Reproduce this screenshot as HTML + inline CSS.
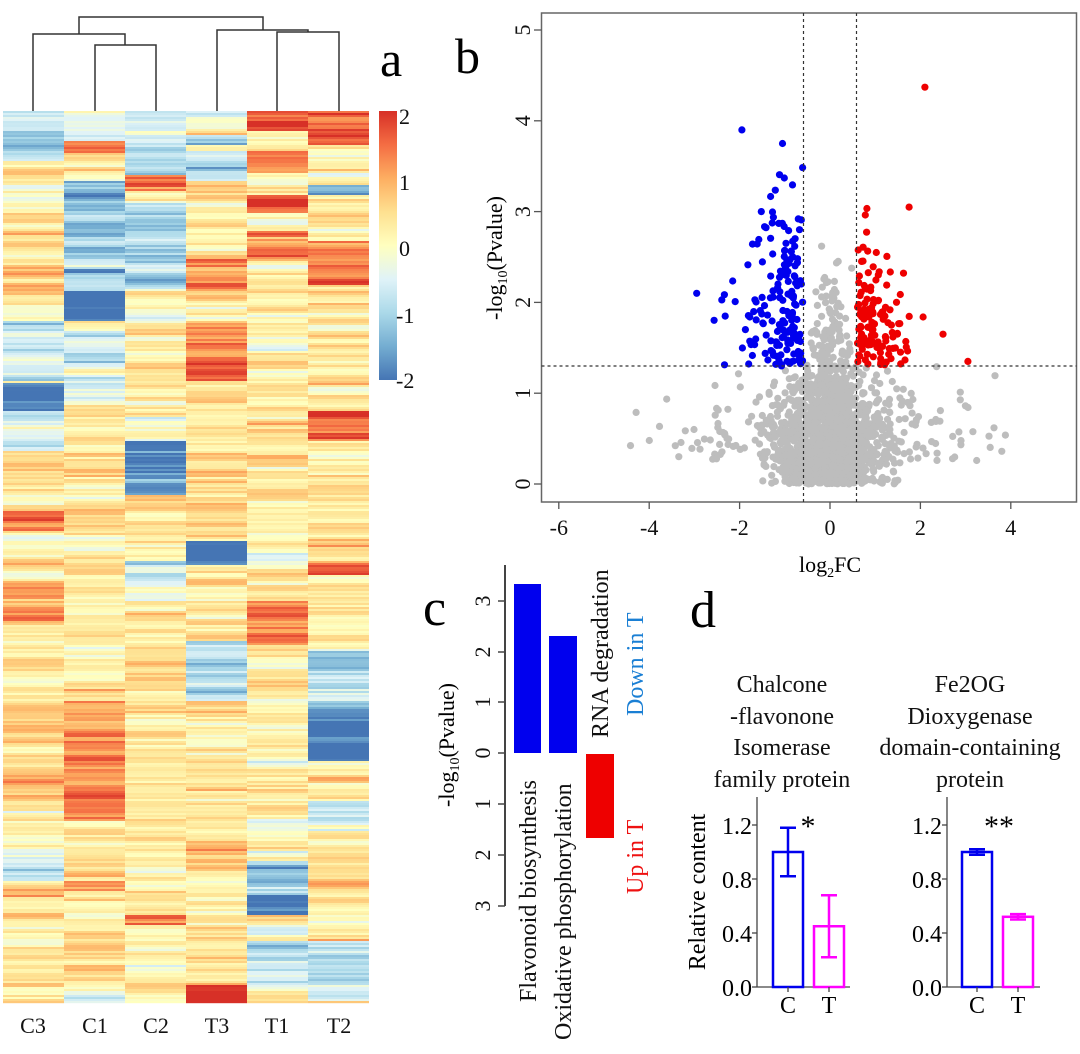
<!DOCTYPE html>
<html><head><meta charset="utf-8"><style>
html,body{margin:0;padding:0;background:#fff;}
svg{display:block;font-family:"Liberation Serif",serif;}
</style></head><body>
<svg id="s" width="1080" height="1054" viewBox="0 0 1080 1054" xmlns="http://www.w3.org/2000/svg">
<g id="hm"></g>
<g stroke="#333" stroke-width="1.5" fill="none">
<path d="M33,111 V34 H125 V45"/>
<path d="M95,111 V45 H156 V111"/>
<path d="M79,34 V17 H263 V30"/>
<path d="M217,111 V30 H308 V32"/>
<path d="M277,111 V32 H339 V111"/>
</g>
<defs><linearGradient id="cb" x1="0" y1="1" x2="0" y2="0">
<stop offset="0" stop-color="#4575b4"/><stop offset="0.125" stop-color="#74add1"/><stop offset="0.25" stop-color="#abd9e9"/><stop offset="0.375" stop-color="#e0f3f8"/><stop offset="0.5" stop-color="#ffffbf"/><stop offset="0.625" stop-color="#fee090"/><stop offset="0.75" stop-color="#fdae61"/><stop offset="0.875" stop-color="#f46d43"/><stop offset="1" stop-color="#d73027"/>
</linearGradient></defs>
<rect x="379" y="111" width="18" height="269" fill="url(#cb)"/>
<g font-size="22" fill="#111">
<text x="399" y="124">2</text><text x="399" y="190">1</text><text x="399" y="256">0</text><text x="396" y="323">-1</text><text x="396" y="388">-2</text>
</g>
<text x="380" y="76" font-size="50">a</text>
<g font-size="22" text-anchor="middle" fill="#111">
<text x="33" y="1033">C3</text><text x="95" y="1033">C1</text><text x="156" y="1033">C2</text><text x="217" y="1033">T3</text><text x="277" y="1033">T1</text><text x="339" y="1033">T2</text>
</g>

<text x="455" y="73" font-size="50">b</text>
<g id="pts"></g>
<rect x="541.5" y="13" width="535" height="489" fill="none" stroke="#666" stroke-width="1.5"/>
<g stroke="#333" stroke-width="1.2" stroke-dasharray="3,3">
<line x1="803.5" y1="13" x2="803.5" y2="502"/><line x1="856.5" y1="13" x2="856.5" y2="502"/>
<line x1="541.5" y1="366" x2="1076.5" y2="366"/>
</g>
<g stroke="#555" stroke-width="1.3" id="vt"></g>
<g font-size="22" fill="#111" id="vl"></g>
<text transform="translate(502,258) rotate(-90)" font-size="22" text-anchor="middle">-log<tspan font-size="14" dy="5">10</tspan><tspan dy="-5">(Pvalue)</tspan></text>
<text x="830" y="572" font-size="22" text-anchor="middle">log<tspan font-size="14" dy="5">2</tspan><tspan dy="-5">FC</tspan></text>

<text x="423" y="625" font-size="52">c</text>
<line x1="505" y1="565" x2="505" y2="906" stroke="#444" stroke-width="2"/>
<g stroke="#444" stroke-width="1.5">
<line x1="498" y1="601" x2="505" y2="601"/><line x1="498" y1="652" x2="505" y2="652"/><line x1="498" y1="702" x2="505" y2="702"/><line x1="498" y1="753" x2="505" y2="753"/><line x1="498" y1="804" x2="505" y2="804"/><line x1="498" y1="855" x2="505" y2="855"/><line x1="498" y1="906" x2="505" y2="906"/>
</g>
<g font-size="22" fill="#111" text-anchor="middle">
<text transform="translate(490,601) rotate(-90)">3</text><text transform="translate(490,652) rotate(-90)">2</text><text transform="translate(490,702) rotate(-90)">1</text><text transform="translate(490,753) rotate(-90)">0</text><text transform="translate(490,804) rotate(-90)">1</text><text transform="translate(490,855) rotate(-90)">2</text><text transform="translate(490,906) rotate(-90)">3</text>
</g>
<text transform="translate(454,745) rotate(-90)" font-size="22" text-anchor="middle">-log<tspan font-size="14" dy="5">10</tspan><tspan dy="-5">(Pvalue)</tspan></text>
<rect x="514" y="584" width="27" height="169" fill="#0000ee"/>
<rect x="549" y="636" width="28" height="117" fill="#0000ee"/>
<rect x="586" y="754" width="28" height="84" fill="#ee0000"/>
<g font-size="24" fill="#111">
<text transform="translate(536,1002) rotate(-90)">Flavonoid biosynthesis</text>
<text transform="translate(571,1040) rotate(-90)">Oxidative phosphorylation</text>
<text transform="translate(608,738) rotate(-90)">RNA degradation</text>
</g>
<text transform="translate(643,716) rotate(-90)" font-size="24" fill="#1a7fd4">Down in T</text>
<text transform="translate(643,894) rotate(-90)" font-size="24" fill="#ee1111">Up in T</text>

<text x="690" y="627" font-size="52">d</text>
<g font-size="24" text-anchor="middle" fill="#111">
<text x="782" y="692">Chalcone</text><text x="782" y="724">-flavonone</text><text x="782" y="755">Isomerase</text><text x="782" y="787">family protein</text>
<text x="970" y="692">Fe2OG</text><text x="970" y="724">Dioxygenase</text><text x="970" y="755">domain-containing</text><text x="970" y="787">protein</text>
</g>
<text transform="translate(705,892) rotate(-90)" font-size="24" text-anchor="middle">Relative content</text>
<g id="bars"></g>
</svg>
<script>
(function(){
var NS="http://www.w3.org/2000/svg";
function el(p,t,a){var e=document.createElementNS(NS,t);for(var k in a)e.setAttribute(k,a[k]);p.appendChild(e);return e;}
var seed=12345;function rnd(){seed=(seed*1103515245+12345)&0x7fffffff;return seed/0x7fffffff;}
function nrm(){var u=rnd()||1e-9,v=rnd();return Math.sqrt(-2*Math.log(u))*Math.cos(2*Math.PI*v);}
var stops=[[-2,[69,117,180]],[-1.5,[116,173,209]],[-1,[171,217,233]],[-0.5,[224,243,248]],[0,[255,255,191]],[0.5,[254,224,144]],[1,[253,174,97]],[1.5,[244,109,67]],[2,[215,48,39]]];
function col(v){v=Math.max(-2,Math.min(2,v));for(var i=0;i<stops.length-1;i++){if(v<=stops[i+1][0]){var t=(v-stops[i][0])/0.5,a=stops[i][1],b=stops[i+1][1];return "rgb("+Math.round(a[0]+(b[0]-a[0])*t)+","+Math.round(a[1]+(b[1]-a[1])*t)+","+Math.round(a[2]+(b[2]-a[2])*t)+")";}}return "rgb(215,48,39)";}
var blocks=[[0,111,140,-0.8],[0,140,160,-1],[0,230,300,0.6],[0,320,380,-0.8],[0,383,410,-2.2],[0,410,450,-0.6],[0,510,530,1.3],[0,580,620,1],[0,700,800,0.8],[0,850,880,-0.6],
[1,111,140,-0.6],[1,140,152,1.6],[1,180,310,-1.1],[1,290,320,-2.1],[1,330,400,-0.5],[1,700,820,1.1],[1,880,900,0.8],
[2,111,175,-0.7],[2,175,190,1.6],[2,200,290,-0.9],[2,440,495,-2],[2,560,600,-0.6],[2,915,925,1.6],
[3,111,130,-0.2],[3,135,145,-1.2],[3,150,180,-0.9],[3,250,300,1.3],[3,320,380,1.4],[3,540,565,-2.3],[3,640,700,-0.9],[3,840,870,0.6],[3,985,1003,2],
[4,111,130,1.8],[4,150,172,1.4],[4,195,212,1.8],[4,230,260,1],[4,600,650,1.1],[4,860,895,-1.2],[4,895,915,-2.2],[4,940,990,-0.8],
[5,111,135,1.6],[5,135,145,1.9],[5,185,195,-1.5],[5,240,285,1.4],[5,410,440,1.4],[5,560,575,1.6],[5,650,700,-1],[5,700,760,-1.9],[5,800,830,-0.8],[5,940,1000,-1]];
var hm=document.getElementById("hm"),xs=[3,64,125,186,247,308,369];
for(var c=0;c<6;c++){var ar=0;for(var y=111;y<1003;y+=2){ar=0.55*ar+0.5*nrm();var b=0.3;for(var i=0;i<blocks.length;i++){var B=blocks[i];if(B[0]==c&&y>=B[1]&&y<B[2]){b=B[3];}}
var v=b+ar*0.55;el(hm,"rect",{x:xs[c],y:y,width:xs[c+1]-xs[c],height:2.2,fill:col(v)});}}
var X0=830,SX=45.2,Y0=484,SY=90.8,pts=document.getElementById("pts");
function P(x,y,f){el(pts,"circle",{cx:(X0+x*SX).toFixed(1),cy:(Y0-y*SY).toFixed(1),r:3.6,fill:f});}
var n=0;while(n<1700){var x,y;if(rnd()<0.15){x=nrm()*1.9;y=Math.abs(nrm())*0.45+0.25;}else{x=nrm()*0.55;y=Math.abs(nrm())*(0.55+0.45*Math.exp(-x*x*8));}
if(y>3.1)continue;if(y>1.3&&Math.abs(x)>0.585)continue;if(x<-4.6||x>3.9)continue;P(x,y,"#bdbdbd");n++;}
for(var i=0;i<170;i++){var x=-0.6-Math.abs(nrm())*0.7,y=1.3+Math.abs(nrm())*0.9;if(x<-3)x=-3;if(y>3.9)y=3.9;P(x,y,"#0000ee");}
for(var i=0;i<130;i++){var x=0.6+Math.abs(nrm())*0.5,y=1.3+Math.abs(nrm())*0.65;if(y>3.2)y=3.2;P(x,y,"#ee0000");}
P(2.1,4.37,"#ee0000");P(3.05,1.35,"#ee0000");P(2.5,1.65,"#ee0000");P(1.75,3.05,"#ee0000");P(-2.95,2.1,"#0000ee");P(-1.95,3.9,"#0000ee");P(-1.05,3.75,"#0000ee");
var vt=document.getElementById("vt"),vl=document.getElementById("vl");
for(var k=-6;k<=4;k+=2){var px=X0+k*SX;el(vt,"line",{x1:px,y1:502,x2:px,y2:509});var t=el(vl,"text",{x:px,y:535,"text-anchor":"middle"});t.textContent=k;}
for(var k=0;k<=5;k++){var py=Y0-k*SY;el(vt,"line",{x1:534,y1:py,x2:541.5,y2:py});var t=el(vl,"text",{transform:"translate(530,"+py+") rotate(-90)","text-anchor":"middle"});t.textContent=k;}
var g=document.getElementById("bars");
function chart(ax,cx,tx,tv,te,ce,star,sx){var y0=987,s=135;
el(g,"line",{x1:ax,y1:797,x2:ax,y2:y0,stroke:"#444","stroke-width":1.3});el(g,"line",{x1:ax,y1:y0,x2:ax+93,y2:y0,stroke:"#444","stroke-width":1.3});
[0,0.4,0.8,1.2].forEach(function(v){var py=y0-v*s;el(g,"line",{x1:ax-5,y1:py,x2:ax,y2:py,stroke:"#444","stroke-width":1.3});var t=el(g,"text",{x:ax-5,y:py+9,"font-size":24,"text-anchor":"end"});t.textContent=v.toFixed(1);});
[[cx,1,ce,"#0000ee","C"],[tx,tv,te,"#ff00ff","T"]].forEach(function(d){var top=y0-d[1]*s;el(g,"rect",{x:d[0],y:top,width:30,height:y0-top,fill:"none",stroke:d[3],"stroke-width":2.5});
var m=d[0]+15;el(g,"path",{d:"M"+m+","+(top-d[2]*s)+"V"+(top+d[2]*s)+"M"+(m-8)+","+(top-d[2]*s)+"h16M"+(m-8)+","+(top+d[2]*s)+"h16",stroke:d[3],"stroke-width":2.5,fill:"none"});
el(g,"line",{x1:m,y1:y0,x2:m,y2:y0+5,stroke:"#444","stroke-width":1.3});
var t=el(g,"text",{x:m,y:1013,"font-size":24,"text-anchor":"middle"});t.textContent=d[4];});
var t=el(g,"text",{x:sx,y:836,"font-size":30,"text-anchor":"middle"});t.textContent=star;}
chart(757,773,814,0.45,0.23,0.18,"*",808);
chart(947,962,1003,0.52,0.02,0.02,"**",999);
})();
</script>
</body></html>
